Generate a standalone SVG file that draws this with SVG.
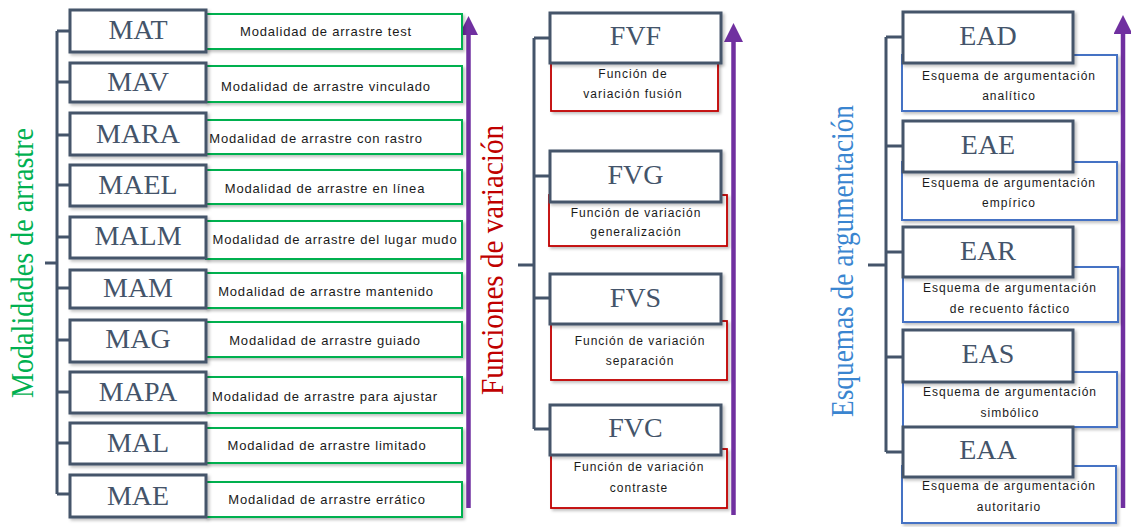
<svg xmlns="http://www.w3.org/2000/svg" width="1131" height="527" viewBox="0 0 1131 527">
<defs>
<style>
.ab{fill:#fff;stroke:#44546A;stroke-width:3;filter:url(#sh)}
.gr{fill:#fff;stroke:#00B050;stroke-width:2;filter:url(#sh)}
.rd{fill:#fff;stroke:#C00000;stroke-width:1.8;filter:url(#sh)}
.bl{fill:#fff;stroke:#4472C4;stroke-width:2;filter:url(#sh)}
.at{font-family:"Liberation Serif",serif;font-size:28px;fill:#44546A;text-anchor:middle}
.d1{font-family:"Liberation Sans",sans-serif;font-size:13px;fill:#1a1a1a;text-anchor:middle;letter-spacing:0.8px}
.d2{font-family:"Liberation Sans",sans-serif;font-size:12px;fill:#1a1a1a;text-anchor:middle;letter-spacing:1px}
.tt{font-family:"Liberation Serif",serif;font-size:32px;text-anchor:middle}
.cn{stroke:#44546A;stroke-width:3;fill:none}
.pa{stroke:#7030A0;stroke-width:4.5;fill:none;marker-end:url(#ah)}
</style>
<filter id="sh" x="-10%" y="-10%" width="130%" height="140%">
<feDropShadow dx="2" dy="2" stdDeviation="1.5" flood-color="#000" flood-opacity="0.25"/>
</filter>
<marker id="ah" markerUnits="userSpaceOnUse" viewBox="0 0 19 19" markerWidth="19" markerHeight="19" refX="1" refY="9.5" orient="auto">
<path d="M0,0 L19,9.5 L0,19 z" fill="#7030A0"/>
</marker>
</defs>
<rect width="1131" height="527" fill="#fff"/>

<!-- titles -->
<text class="tt" fill="#00B050" transform="translate(33,263) rotate(-90)" textLength="270" lengthAdjust="spacingAndGlyphs">Modalidades de arrastre</text>
<text class="tt" fill="#C00000" transform="translate(503,260) rotate(-90)" textLength="270" lengthAdjust="spacingAndGlyphs">Funciones de variación</text>
<text class="tt" fill="#3A85D0" transform="translate(853,261) rotate(-90)" textLength="312" lengthAdjust="spacingAndGlyphs">Esquemas de argumentación</text>

<!-- connectors -->
<g id="connectors">
<path class="cn" d="M45,263 H57 M57,31 V494 M57,31 H70 M57,82 H70 M57,135 H70 M57,185 H70 M57,237 H70 M57,288 H70 M57,340 H70 M57,392 H70 M57,443 H70 M57,494 H70"/>
<path class="cn" d="M518,265 H534 M534,38 V429 M534,38 H550 M534,176 H550 M534,298 H550 M534,429 H550"/>
<path class="cn" d="M868,265 H886 M886,37 V452 M886,37 H903 M886,146 H903 M886,252 H903 M886,357 H903 M886,452 H903"/>
<line class="pa" x1="468.5" y1="508" x2="468.5" y2="34"/>
<line class="pa" x1="733.5" y1="515" x2="733.5" y2="41"/>
<line class="pa" x1="1123" y1="508" x2="1123" y2="33"/>
</g>

<!-- left column -->
<g id="MAT"><rect class="gr" x="206" y="14" width="256" height="35"/><rect class="ab" x="70" y="10" width="136" height="42"/><text class="at" x="138" y="39">MAT</text><text class="d1" x="326" y="36">Modalidad de arrastre test</text></g>
<g id="MAV"><rect class="gr" x="206" y="66" width="256" height="36"/><rect class="ab" x="70" y="63" width="136" height="39"/><text class="at" x="138" y="91">MAV</text><text class="d1" x="326" y="91">Modalidad de arrastre vinculado</text></g>
<g id="MARA"><rect class="gr" x="206" y="120" width="256" height="34"/><rect class="ab" x="70" y="113" width="136" height="42"/><text class="at" x="138" y="143">MARA</text><text class="d1" x="316" y="143">Modalidad de arrastre con rastro</text></g>
<g id="MAEL"><rect class="gr" x="206" y="170" width="256" height="34"/><rect class="ab" x="70" y="165" width="136" height="41"/><text class="at" x="138" y="194">MAEL</text><text class="d1" x="325" y="193">Modalidad de arrastre en línea</text></g>
<g id="MALM"><rect class="gr" x="206" y="221" width="256" height="38"/><rect class="ab" x="70" y="217" width="136" height="41"/><text class="at" x="138" y="245">MALM</text><text class="d1" x="335" y="244">Modalidad de arrastre del lugar mudo</text></g>
<g id="MAM"><rect class="gr" x="206" y="273" width="256" height="35"/><rect class="ab" x="70" y="270" width="136" height="38"/><text class="at" x="138" y="297">MAM</text><text class="d1" x="326" y="296">Modalidad de arrastre mantenido</text></g>
<g id="MAG"><rect class="gr" x="206" y="322" width="256" height="35"/><rect class="ab" x="70" y="320" width="136" height="42"/><text class="at" x="138" y="348">MAG</text><text class="d1" x="325" y="345">Modalidad de arrastre guiado</text></g>
<g id="MAPA"><rect class="gr" x="206" y="377" width="256" height="36"/><rect class="ab" x="70" y="372" width="136" height="41"/><text class="at" x="138" y="401">MAPA</text><text class="d1" x="325" y="401">Modalidad de arrastre para ajustar</text></g>
<g id="MAL"><rect class="gr" x="206" y="428" width="256" height="35"/><rect class="ab" x="70" y="423" width="136" height="41"/><text class="at" x="138" y="452">MAL</text><text class="d1" x="327" y="450">Modalidad de arrastre limitado</text></g>
<g id="MAE"><rect class="gr" x="206" y="482" width="256" height="35"/><rect class="ab" x="70" y="475" width="136" height="42"/><text class="at" x="138" y="505">MAE</text><text class="d1" x="327" y="504">Modalidad de arrastre errático</text></g>

<!-- middle column -->
<g id="FVF"><rect class="rd" x="551" y="55" width="167" height="56"/><rect class="ab" x="550" y="13" width="171" height="50"/><text class="at" x="635.5" y="45">FVF</text><text class="d2" x="633" y="78">Función de</text><text class="d2" x="633" y="98">variación fusión</text></g>
<g id="FVG"><rect class="rd" x="549" y="195" width="178" height="51"/><rect class="ab" x="550" y="151" width="171" height="51"/><text class="at" x="635.5" y="184">FVG</text><text class="d2" x="636" y="217">Función de variación</text><text class="d2" x="636" y="236">generalización</text></g>
<g id="FVS"><rect class="rd" x="551" y="321" width="176" height="59"/><rect class="ab" x="550" y="274" width="171" height="50"/><text class="at" x="635.5" y="307">FVS</text><text class="d2" x="640" y="345">Función de variación</text><text class="d2" x="640" y="365">separación</text></g>
<g id="FVC"><rect class="rd" x="551" y="449" width="176" height="59"/><rect class="ab" x="550" y="405" width="171" height="50"/><text class="at" x="635.5" y="437">FVC</text><text class="d2" x="639" y="471">Función de variación</text><text class="d2" x="639" y="492">contraste</text></g>

<!-- right column -->
<g id="EAD"><rect class="bl" x="902" y="55" width="215" height="56"/><rect class="ab" x="903" y="12" width="170" height="51"/><text class="at" x="988" y="45">EAD</text><text class="d2" x="1009" y="80">Esquema de argumentación</text><text class="d2" x="1009" y="100">analítico</text></g>
<g id="EAE"><rect class="bl" x="902" y="162" width="215" height="58"/><rect class="ab" x="903" y="121" width="170" height="51"/><text class="at" x="988" y="154">EAE</text><text class="d2" x="1009" y="187">Esquema de argumentación</text><text class="d2" x="1009" y="207">empírico</text></g>
<g id="EAR"><rect class="bl" x="903" y="267" width="215" height="55"/><rect class="ab" x="903" y="227" width="170" height="50"/><text class="at" x="988" y="260">EAR</text><text class="d2" x="1010" y="292">Esquema de argumentación</text><text class="d2" x="1010" y="313">de recuento fáctico</text></g>
<g id="EAS"><rect class="bl" x="903" y="372" width="214" height="55"/><rect class="ab" x="903" y="330" width="170" height="52"/><text class="at" x="988" y="363">EAS</text><text class="d2" x="1010" y="396">Esquema de argumentación</text><text class="d2" x="1010" y="417">simbólico</text></g>
<g id="EAA"><rect class="bl" x="902" y="466" width="214" height="57"/><rect class="ab" x="903" y="427" width="170" height="50"/><text class="at" x="988" y="459">EAA</text><text class="d2" x="1009" y="490">Esquema de argumentación</text><text class="d2" x="1009" y="511">autoritario</text></g>
</svg>
